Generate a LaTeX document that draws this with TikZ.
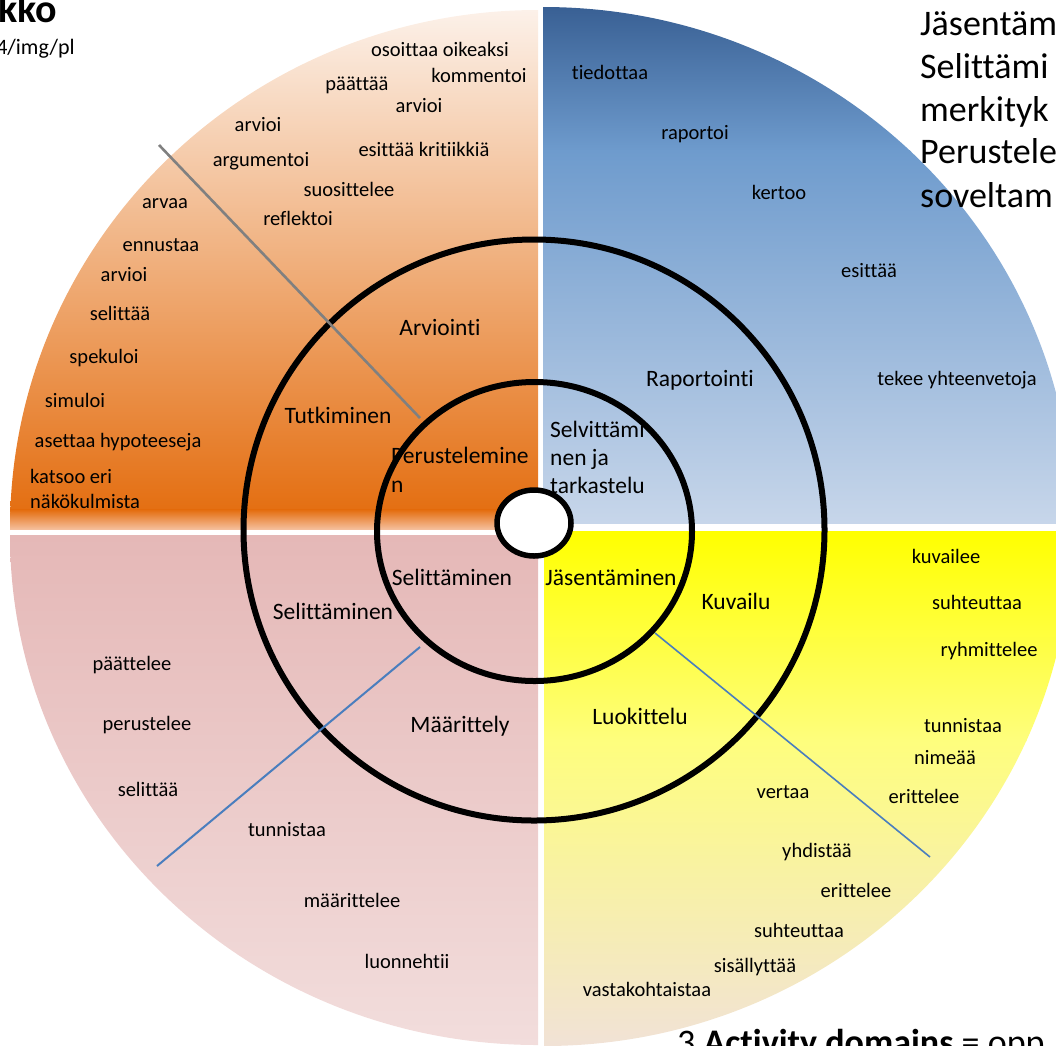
\documentclass[tikz,border=0pt]{standalone}
\usepackage{fontspec}
\setmainfont{Carlito}[Ligatures=NoCommon]
\definecolor{orTop}{RGB}{252,241,233}
\definecolor{orMid}{RGB}{243,183,135}
\definecolor{orBot}{RGB}{227,106,10}
\definecolor{orEdge}{RGB}{245,190,155}
\definecolor{blTop}{RGB}{57,96,148}
\definecolor{blMid}{RGB}{110,155,205}
\definecolor{blBot}{RGB}{199,214,234}
\definecolor{pkTop}{RGB}{229,184,183}
\definecolor{pkBot}{RGB}{242,221,220}
\definecolor{ywTop}{RGB}{255,255,0}
\definecolor{ywMid}{RGB}{254,254,125}
\definecolor{ywPale}{RGB}{251,249,195}
\definecolor{ywBot}{RGB}{241,226,214}
\definecolor{lineGray}{RGB}{128,128,128}
\definecolor{lineBlue}{RGB}{74,126,190}
\begin{document}
\begin{tikzpicture}[x=1pt,y=-1pt,
  lbl/.style={font=\fontsize{20.5}{25}\selectfont, inner sep=0pt, anchor=base},
  lblw/.style={lbl, anchor=base west},
  mid/.style={font=\fontsize{23.5}{29}\selectfont, inner sep=0pt, anchor=base},
  midw/.style={mid, anchor=base west},
  big/.style={font=\fontsize{36}{44}\selectfont, inner sep=0pt, anchor=base west},
  ring/.style={draw=black, line width=6pt},
  sepline/.style={line width=#1},
]
\useasboundingbox (0,0) rectangle (1056,1045);

% --- four shaded quarters ---
\begin{scope}
  \clip (538,529) ellipse [x radius=528pt, y radius=519pt];
  \shade[top color=orTop, middle color=orMid, bottom color=orBot] (10,10) rectangle (538,529);
  \shade[top color=orBot, bottom color=orEdge] (10,509) rectangle (538,529);
\end{scope}
\begin{scope}
  \clip (543,523) ellipse [x radius=530pt, y radius=516pt];
  \shade[top color=blTop, bottom color=blMid] (543,7) rectangle (1073,151);
  \shade[top color=blMid, bottom color=blBot] (543,150) rectangle (1073,523);
\end{scope}
\begin{scope}
  \clip (538,535) ellipse [x radius=528pt, y radius=510pt];
  \shade[top color=pkTop, bottom color=pkBot] (10,535) rectangle (538,1045);
\end{scope}
\begin{scope}
  \clip (544,531) ellipse [x radius=528pt, y radius=515pt];
  \shade[top color=ywTop, bottom color=ywMid] (544,531) rectangle (1072,741);
  \shade[top color=ywMid, middle color=ywPale, bottom color=ywBot] (544,740) rectangle (1072,1046);
\end{scope}

% --- verbs, upper left ---
\node[lbl] (o1) at (440,56) {osoittaa oikeaksi};
\node[lbl] (o2) at (357,90) {päättää};
\node[lbl] (o3) at (479,82) {kommentoi};
\node[lbl] (o4) at (419,112) {arvioi};
\node[lbl] (o5) at (258,131) {arvioi};
\node[lbl] (o6) at (424,156) {esittää kritiikkiä};
\node[lbl] (o7) at (261,166) {argumentoi};
\node[lbl] (o8) at (349,196) {suosittelee};
\node[lbl] (o9) at (165,208) {arvaa};
\node[lbl] (o10) at (298,225) {reflektoi};
\node[lbl] (o11) at (161,251) {ennustaa};
\node[lbl] (o12) at (124,281) {arvioi};
\node[lbl] (o13) at (120,320) {selittää};
\node[lbl] (o14) at (104,363) {spekuloi};
\node[lbl] (o15) at (75,407) {simuloi};
\node[lbl] (o16) at (118,447) {asettaa hypoteeseja};
\node[lblw] (o17) at (30,483) {katsoo eri};
\node[lblw] (o18) at (30,508) {näkökulmista};

% --- verbs, upper right ---
\node[lbl] (b1) at (610,79) {tiedottaa};
\node[lbl] (b2) at (695,139) {raportoi};
\node[lbl] (b3) at (779,199) {kertoo};
\node[lbl] (b4) at (869,277) {esittää};
\node[lbl] (b5) at (957,385) {tekee yhteenvetoja};

% --- verbs, lower right ---
\node[lbl] (y1) at (946,563) {kuvailee};
\node[lbl] (y2) at (977,609) {suhteuttaa};
\node[lbl] (y3) at (989,656) {ryhmittelee};
\node[lbl] (y4) at (963,732) {tunnistaa};
\node[lbl] (y5) at (945,764) {nimeää};
\node[lbl] (y6) at (924,803) {erittelee};
\node[lbl] (y7) at (783,798) {vertaa};
\node[lbl] (y8) at (817,857) {yhdistää};
\node[lbl] (y9) at (856,897) {erittelee};
\node[lbl] (y10) at (799,937) {suhteuttaa};
\node[lbl] (y11) at (755,972) {sisällyttää};
\node[lbl] (y12) at (647,996) {vastakohtaistaa};

% --- verbs, lower left ---
\node[lbl] (p1) at (132,670) {päättelee};
\node[lbl] (p2) at (147,730) {perustelee};
\node[lbl] (p3) at (148,796) {selittää};
\node[lbl] (p4) at (287,836) {tunnistaa};
\node[lbl] (p5) at (352,907) {määrittelee};
\node[lbl] (p6) at (407,968) {luonnehtii};

% --- middle ring ---
\node[mid] (m1) at (440,335) {Arviointi};
\node[mid] (m2) at (700,386) {Raportointi};
\node[mid] (m3) at (338,423) {Tutkiminen};
\node[mid] (m4) at (736,609) {Kuvailu};
\node[mid] (m5) at (333,619) {Selittäminen};
\node[mid] (m6) at (640,724) {Luokittelu};
\node[mid] (m7) at (460,732) {Määrittely};

% --- inner ring ---
\node[midw] (i1) at (391,463) {Perustelemine};
\node[midw] (i2) at (391,492) {n};
\node[midw] (i3) at (550,437) {Selvittämi};
\node[midw] (i4) at (550,465) {nen ja};
\node[midw] (i5) at (550,493) {tarkastelu};
\node[mid] (i6) at (452,585) {Selittäminen};
\node[mid] (i7) at (611,585) {Jäsentäminen};

% --- rings ---
\draw[ring] (534,530) circle [radius=290.5pt];
\draw[ring] (534.5,531.5) ellipse [x radius=157.5pt, y radius=149.5pt];
\draw[fill=white, draw=black, line width=5.5pt] (534,523) ellipse [x radius=37pt, y radius=33pt];

% --- dividing strokes ---
\coordinate (g1) at (159,145);
\coordinate (g2) at (420,418);
\coordinate (l1) at (420,647);
\coordinate (l2) at (157,866);
\coordinate (r1) at (655,633);
\coordinate (r2) at (930,857);
\draw[lineGray, sepline=2.6pt] (g1) -- (g2);
\draw[lineBlue, sepline=2pt] (l1) -- (l2);
\draw[lineBlue, sepline=1.6pt] (r1) -- (r2);

% --- surrounding text ---
\node[font=\fontsize{40}{48}\selectfont\bfseries, inner sep=0pt, anchor=base east] (h1) at (57,22) {kko};
\node[font=\fontsize{22}{26}\selectfont, inner sep=0pt, anchor=base east] (h2) at (75,54) {4/img/pl};
\node[big] (t1) at (920,35) {Jäsentäm};
\node[big] (t2) at (920,78) {Selittämi};
\node[big] (t3) at (920,121) {merkityk};
\node[big] (t4) at (920,163) {Perustele};
\node[big] (t5) at (920,207) {soveltam};
\node[big] (t6) at (677,1054) {3 \textbf{Activity domains} = opp};
\end{tikzpicture}
\end{document}
